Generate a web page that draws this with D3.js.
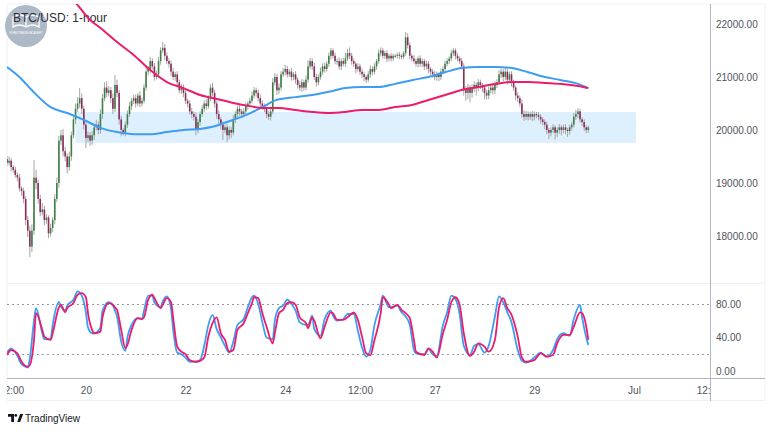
<!DOCTYPE html>
<html>
<head>
<meta charset="utf-8">
<script src="https://cdn.jsdelivr.net/npm/d3@7"></script>
<style>
  body { margin: 0; background: #fff; }
  text { font-family: "Liberation Sans Narrow", "Liberation Sans", Roboto, sans-serif; }
</style>
</head>
<body>
<div id="chart"></div>
<script>
// BTC/USD hourly candles (open = previous close)
var firstOpen = 19450;
var closes = [
  19380,19420,19300,19250,19150,19100,18900,18850,18700,18300,
  18100,17800,18100,19100,19000,18700,18450,18500,18300,18350,
  18050,18150,18300,18700,19000,19800,19900,19600,19500,19300,
  19500,19900,20200,20400,20500,20600,20400,20100,19850,19900,
  19800,19900,20050,20100,20000,20300,20600,20800,20700,20750,
  20600,20400,20850,20700,20200,20000,19950,20100,20300,20450,
  20550,20600,20500,20650,20500,20550,20800,21100,21150,21300,
  21200,21000,21050,21300,21500,21550,21400,21300,21250,21100,
  21000,21050,20900,20750,20800,20700,20550,20500,20350,20300,
  20250,20000,20150,20300,20400,20500,20450,20600,20800,20700,
  20500,20300,20200,20100,20000,20050,19900,20000,19950,20200,
  20300,20400,20350,20300,20350,20450,20500,20550,20650,20750,
  20700,20600,20500,20450,20400,20300,20250,20350,20900,21000,
  20750,20800,21050,21100,21150,21050,21100,21000,21050,20950,
  20850,20800,20900,20800,20950,21200,21300,21200,21000,20900,
  21000,21100,21200,21150,21250,21400,21500,21400,21300,21300,
  21200,21300,21250,21350,21450,21400,21300,21250,21150,21200,
  21100,21050,21000,20950,21050,21150,21100,21200,21300,21450,
  21500,21400,21450,21350,21400,21350,21400,21400,21420,21400,
  21380,21450,21750,21600,21400,21350,21300,21250,21350,21250,
  21300,21200,21250,21150,21100,21050,21000,21050,21000,21100,
  21150,21250,21300,21350,21450,21500,21400,21350,21300,21200,
  20750,20700,20800,20700,20800,20850,20800,20900,20850,20800,
  20700,20650,20750,20800,20750,20850,20900,21050,21100,21000,
  21100,20950,21050,20900,20800,20650,20600,20500,20300,20250,
  20300,20250,20300,20250,20300,20280,20250,20200,20150,20100,
  20000,19950,20000,20050,19950,20000,20050,20000,20050,20000,
  19980,20050,20100,20250,20300,20350,20200,20150,20050,20000,
  20050
];
var wickUp = [
  60,80,50,40,60,50,70,40,60,50,80,90,120,330,150,60,80,120,70,60,
  40,80,60,90,100,90,100,120,80,60,90,70,80,100,120,190,90,60,80,70,
  60,80,70,90,60,90,80,100,120,80,60,90,190,100,60,70,40,60,70,80,
  50,60,70,50,80,60,70,90,60,80,50,60,70,80,60,110,70,60,50,60,
  70,50,60,50,70,60,50,40,60,70,50,80,60,50,70,60,80,50,60,90,
  60,50,70,40,60,50,60,70,60,80,50,60,70,50,60,70,40,60,80,60,
  50,60,70,60,50,40,60,50,80,70,60,80,60,70,80,60,50,70,40,60,
  50,70,60,50,80,115,60,50,70,60,50,80,60,70,50,60,50,40,60,50,
  70,50,60,110,80,110,60,50,40,60,50,60,50,40,60,70,50,60,40,70,
  60,50,40,50,40,50,40,30,40,50,30,40,100,80,50,40,60,50,40,60,
  50,40,60,50,40,50,60,50,40,60,50,60,50,40,60,50,40,50,40,60,
  60,80,70,50,60,70,50,60,50,40,50,60,70,50,60,70,60,80,60,50,
  70,60,50,60,50,40,60,50,80,70,60,50,40,60,50,40,60,50,40,50,
  60,40,50,60,40,50,60,40,50,60,40,50,60,70,80,60,50,40,50,40,
  30
];
var wickDown = [
  60,50,80,60,50,70,60,90,80,100,120,200,100,80,120,90,80,60,100,70,
  90,60,70,80,60,90,80,100,90,120,70,80,60,90,60,80,100,90,190,80,
  100,80,90,60,80,70,90,60,80,70,90,100,60,80,100,120,50,70,60,50,
  70,60,80,50,70,60,50,60,70,80,60,70,50,60,70,50,80,60,70,80,
  60,70,80,60,70,80,60,70,60,80,70,100,60,70,50,60,70,50,60,70,
  80,90,100,90,190,60,130,80,100,50,70,60,80,70,60,50,70,60,50,60,
  70,60,80,70,60,80,60,70,50,60,90,70,60,50,70,60,50,70,60,80,
  70,60,80,60,50,60,50,70,60,80,60,50,60,70,50,60,70,50,60,70,
  60,70,50,60,50,60,70,60,80,50,60,70,80,60,50,60,70,50,60,50,
  60,50,60,70,50,60,50,40,50,60,50,40,50,60,70,60,50,60,70,60,
  60,70,60,80,70,60,60,70,80,60,50,60,50,60,50,60,70,60,50,60,
  100,150,120,180,90,80,150,70,80,90,120,80,70,60,80,70,60,50,70,80,
  60,90,70,80,60,90,80,60,70,80,60,70,60,80,70,60,70,80,60,90,
  80,120,70,60,130,80,70,100,60,80,110,70,60,50,60,70,60,80,70,60,
  50
];

// moving averages (blue and red), sampled at candle indices
var blueIdx = [0,6,12,21,29,37,45,53,61,69,77,85,93,99,106,115,123,130,139,147,
  155,163,171,179,187,195,203,211,219,227,235,243,251,259,267,275,280];
var blueVals = [21190,21000,20750,20430,20320,20190,20040,19960,19920,19920,
  19960,20000,20020,20060,20150,20280,20430,20570,20620,20660,
  20720,20790,20810,20810,20870,20940,21000,21090,21170,21190,
  21190,21170,21090,21000,20940,20870,20790];
var redIdx = [0,16,33,40,45,53,61,69,77,85,93,101,109,117,123,131,139,147,155,163,
  171,179,187,195,203,211,219,227,235,243,251,259,267,275,280];
var redVals = [23600,22800,22400,22075,21925,21660,21415,21130,20905,20790,
  20660,20585,20510,20450,20415,20415,20377,20340,20320,20340,
  20377,20377,20434,20472,20566,20660,20755,20811,20868,20905,
  20905,20887,20868,20830,20790];

// stochastic %K (blue) and %D (red)
var stochIdx = [0,2,5,7,10,11,13,14,17,18,
  21,22,25,26,28,29,32,34,36,38,
  39,41,42,45,46,49,51,52,53,55,
  57,58,60,63,65,66,68,70,71,74,
  75,77,79,80,82,84,86,88,91,93,
  95,97,99,101,103,105,107,109,111,114,
  116,118,119,121,123,125,128,129,131,133,
  135,137,139,141,144,145,147,148,151,153,
  156,157,159,162,164,167,169,171,173,175,
  177,180,181,184,185,188,190,192,194,196,
  197,201,203,205,207,210,212,214,216,218,
  220,223,225,227,230,232,235,237,239,241,
  243,246,248,250,254,257,260,263,265,268,
  271,273,276,277,279,280];
var stochK = [22,27,18,8,4,15,60,75,45,38,
  38,55,82,77,72,78,85,95,90,70,
  52,45,45,52,72,82,78,72,65,35,
  24,40,55,63,62,72,90,90,82,76,
  83,89,74,50,22,20,16,11,11,13,
  30,55,67,50,40,30,22,35,55,62,
  76,88,90,80,58,40,38,60,75,78,
  85,80,72,58,55,55,66,50,42,62,
  72,66,60,62,68,68,48,28,17,25,
  55,80,90,76,76,78,70,65,55,25,
  21,20,26,20,18,55,70,90,86,68,
  30,19,30,32,22,30,65,89,82,70,
  58,25,12,10,16,22,17,25,38,45,
  42,62,79,64,40,31];
var stochD = [19,25,21,11,5,7,37,69,49,41,
  37,45,76,79,70,75,81,91,93,88,
  69,49,45,47,64,81,79,76,73,49,
  27,31,49,63,62,64,85,91,87,75,
  79,87,82,64,29,23,20,13,11,12,
  16,41,57,64,45,37,23,25,49,57,
  69,81,88,87,69,53,33,45,69,73,
  81,82,79,64,57,51,64,60,39,53,
  70,69,61,61,64,70,61,41,21,19,
  37,69,88,79,75,79,73,69,63,37,
  23,19,27,23,16,45,61,82,88,79,
  45,18,23,33,29,23,37,76,87,75,
  67,41,16,11,13,21,17,19,33,43,
  43,53,70,69,53,37];

// support zone (price range, candle index range)
var zonePrices = [19755, 20340];
var zoneIdx = [33, 303];

var priceTicks = [18000, 19000, 20000, 21000, 22000];
var stochTicks = [0, 40, 80];
var stochBands = [20, 80];
var timeTicks = [new Date(2022,5,18,12), new Date(2022,5,20), new Date(2022,5,22),
  new Date(2022,5,24), new Date(2022,5,25,12), new Date(2022,5,27),
  new Date(2022,5,29), new Date(2022,6,1), new Date(2022,6,2,12)];
var timeLabels = ["12:00","20","22","24","12:00","27","29","Jul","12:00"];

var t0 = new Date(2022,5,18,10);
function idxTime(i) { return new Date(t0.getTime() + i * 36e5); }

function init() {
  var w = 768, h = 432;
  var left = 7, right = 710;
  var mainTop = 4, mainBottom = 283, stochBottom = 378;

  var svg = d3.select("#chart").append("svg")
      .attr("width", w).attr("height", h);

  var x = d3.scaleTime()
      .domain([t0, idxTime(338.6)])
      .range([left, right]);
  var y = d3.scaleLinear().domain([17113, 22377]).range([mainBottom, mainTop]);
  var ys = d3.scaleLinear().domain([-8.4, 105]).range([stochBottom, mainBottom]);

  var defs = svg.append("defs");
  defs.append("clipPath").attr("id", "clipMain").append("rect")
      .attr("x", left).attr("y", mainTop).attr("width", right - left).attr("height", mainBottom - mainTop);
  defs.append("clipPath").attr("id", "clipStoch").append("rect")
      .attr("x", left).attr("y", mainBottom).attr("width", right - left).attr("height", stochBottom - mainBottom);
  // used inside the translated time-axis group, so y starts at 0
  defs.append("clipPath").attr("id", "clipTime").append("rect")
      .attr("x", left).attr("y", 0).attr("width", right - left).attr("height", 30);

  // frame lines
  var frame = svg.append("g").attr("fill", "none");
  frame.append("line").attr("x1", left).attr("x2", 765).attr("y1", mainTop).attr("y2", mainTop).attr("stroke", "#eef0f3");
  frame.append("line").attr("x1", left).attr("x2", left).attr("y1", mainTop).attr("y2", 400).attr("stroke", "#eef0f3");
  frame.append("line").attr("x1", left).attr("x2", 765).attr("y1", mainBottom + 0.5).attr("y2", mainBottom + 0.5).attr("stroke", "#eceef2");
  frame.append("line").attr("x1", left).attr("x2", 765).attr("y1", 400.5).attr("y2", 400.5).attr("stroke", "#eef0f3");
  frame.append("line").attr("x1", 765).attr("x2", 765).attr("y1", mainTop).attr("y2", 400).attr("stroke", "#eef0f3");

  // watermark
  var wm = svg.append("g");
  wm.append("circle").attr("cx", 26).attr("cy", 26).attr("r", 21).attr("fill", "#aeb9c7");
  wm.append("path")
      .attr("d", "M13,27 q6.5,-4 13,0 q6.5,-4 13,0 v-10 q-6.5,-4 -13,0 q-6.5,-4 -13,0 z M26,17 v10")
      .attr("fill", "none").attr("stroke", "#fff").attr("stroke-width", 1.3);
  wm.append("text").attr("x", 26).attr("y", 34).attr("text-anchor", "middle")
      .attr("font-size", "2.6px").attr("fill", "#fff").text("FOREXTRADINGACADEMY");

  // title
  svg.append("text").attr("x", 13).attr("y", 22)
      .attr("font-size", "12px").attr("fill", "#2a2e39")
      .style("font-family", "'Liberation Sans', Roboto, sans-serif")
      .text("BTC/USD: 1-hour");

  var main = svg.append("g").attr("clip-path", "url(#clipMain)");

  // support zone
  main.append("rect")
      .attr("x", x(idxTime(zoneIdx[0])))
      .attr("y", y(zonePrices[1]))
      .attr("width", x(idxTime(zoneIdx[1])) - x(idxTime(zoneIdx[0])))
      .attr("height", y(zonePrices[0]) - y(zonePrices[1]))
      .attr("fill", "#2196f3").attr("fill-opacity", 0.15);

  var candles = closes.map(function(c, i) {
    var o = i === 0 ? firstOpen : closes[i - 1];
    return { t: idxTime(i), o: o, c: c,
             hi: Math.max(o, c) + wickUp[i], lo: Math.min(o, c) - wickDown[i] };
  });

  var cg = main.append("g");
  cg.selectAll("line.wick").data(candles).enter().append("line")
      .attr("class", "wick")
      .attr("x1", function(d) { return x(d.t); })
      .attr("x2", function(d) { return x(d.t); })
      .attr("y1", function(d) { return y(d.hi); })
      .attr("y2", function(d) { return y(d.lo); })
      .attr("stroke", "#a5a5a5").attr("stroke-width", 1);
  cg.selectAll("rect.body").data(candles).enter().append("rect")
      .attr("class", "body")
      .attr("x", function(d) { return x(d.t) - 0.8; })
      .attr("width", 1.6)
      .attr("y", function(d) { return y(Math.max(d.o, d.c)); })
      .attr("height", function(d) { return Math.max(1, Math.abs(y(d.o) - y(d.c))); })
      .attr("fill", function(d) { return d.c >= d.o ? "#3f7f45" : "#8c2d5e"; });

  var maLine = d3.line().curve(d3.curveMonotoneX)
      .x(function(d) { return x(idxTime(d[0])); })
      .y(function(d) { return y(d[1]); });
  main.append("path").datum(blueIdx.map(function(v, i) { return [v, blueVals[i]]; }))
      .attr("d", maLine).attr("fill", "none").attr("stroke", "#3d9cf3").attr("stroke-width", 2);
  main.append("path").datum(redIdx.map(function(v, i) { return [v, redVals[i]]; }))
      .attr("d", maLine).attr("fill", "none").attr("stroke", "#ec1c6d").attr("stroke-width", 2);

  // stochastic pane
  var st = svg.append("g").attr("clip-path", "url(#clipStoch)");
  st.selectAll("line.band").data(stochBands).enter().append("line")
      .attr("class", "band")
      .attr("x1", left).attr("x2", right)
      .attr("y1", function(d) { return Math.round(ys(d)) + 0.5; })
      .attr("y2", function(d) { return Math.round(ys(d)) + 0.5; })
      .attr("stroke", "#9598a1").attr("stroke-dasharray", "2,3");
  var sLine = d3.line().curve(d3.curveMonotoneX)
      .x(function(d) { return x(idxTime(d[0])); })
      .y(function(d) { return ys(d[1]); });
  st.append("path").datum(stochIdx.map(function(v, i) { return [v, stochK[i]]; }))
      .attr("d", sLine).attr("fill", "none").attr("stroke", "#3d9cf3").attr("stroke-width", 1.8);
  st.append("path").datum(stochIdx.map(function(v, i) { return [v, stochD[i]]; }))
      .attr("d", sLine).attr("fill", "none").attr("stroke", "#ec1c6d").attr("stroke-width", 1.8);

  // axis lines
  svg.append("line").attr("x1", right + 0.5).attr("x2", right + 0.5).attr("y1", mainTop).attr("y2", 401)
      .attr("stroke", "#b2b5be");
  svg.append("line").attr("x1", left).attr("x2", 765).attr("y1", stochBottom + 0.5).attr("y2", stochBottom + 0.5)
      .attr("stroke", "#b2b5be");

  // price axis
  var yAxis = svg.append("g").attr("transform", "translate(" + right + ",0)")
      .call(d3.axisRight(y).tickValues(priceTicks).tickFormat(d3.format(".2f")).tickSize(0).tickPadding(6));
  var sAxis = svg.append("g").attr("transform", "translate(" + right + ",0)")
      .call(d3.axisRight(ys).tickValues(stochTicks).tickFormat(d3.format(".2f")).tickSize(0).tickPadding(6));
  [yAxis, sAxis].forEach(function(a) {
    a.select(".domain").remove();
    a.selectAll("text").attr("font-size", "10px").attr("fill", "#50535e")
      .style("font-family", "'Liberation Sans Narrow', 'Liberation Sans', sans-serif");
  });

  // time axis
  var xAxis = svg.append("g").attr("transform", "translate(0," + stochBottom + ")")
      .attr("clip-path", "url(#clipTime)")
      .call(d3.axisBottom(x).tickValues(timeTicks)
        .tickFormat(function(d, i) { return timeLabels[i]; }).tickSize(0).tickPadding(9));
  xAxis.select(".domain").remove();
  xAxis.selectAll("text").attr("font-size", "10px").attr("fill", "#50535e")
      .style("font-family", "'Liberation Sans Narrow', 'Liberation Sans', sans-serif");

  // TradingView mark
  var tv = svg.append("g").attr("fill", "#131722");
  tv.append("path").attr("d", "M8,414 h6 v8 h-2.8 v-5.2 h-3.2 z");
  tv.append("circle").attr("cx", 15.8).attr("cy", 415.4).attr("r", 1.4);
  tv.append("path").attr("d", "M17.2,422 l3,-8 h3 l-3,8 z");
  tv.append("text").attr("x", 25).attr("y", 421.5).attr("font-size", "10px").text("TradingView");
}

window.onload = init;
</script>
</body>
</html>
